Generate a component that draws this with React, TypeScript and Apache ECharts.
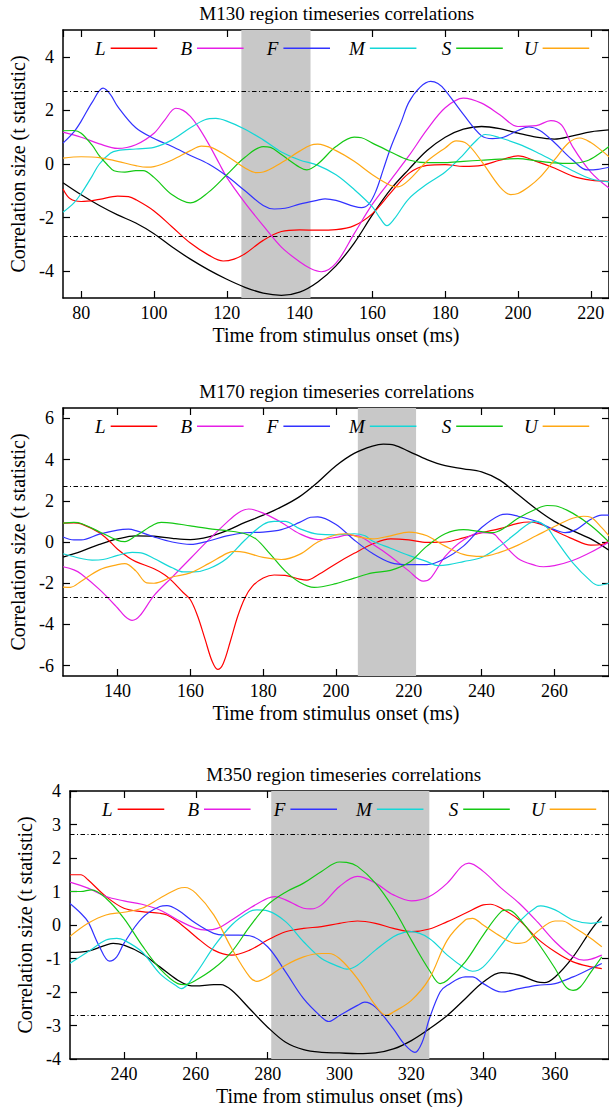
import React, { useEffect, useRef } from 'react';
import * as echarts from 'echarts';

type Pt = [number, number];

const seriesNames = ['L', 'B', 'F', 'M', 'S', 'U'];
const seriesColors = ['#ff0000', '#e61ee6', '#3232ff', '#14d7d7', '#14c814', '#ffa814'];
const overallName = 'All';
const overallColor = '#000000';
const thresholds = [2.7, -2.7];
const xAxisTitle = 'Time from stimulus onset (ms)';
const yAxisTitle = 'Correlation size (t statistic)';

// ---------- M130 ----------
const m130L: Pt[] = [[75,-0.93],[77,-1.3],[80,-1.4],[85,-1.32],[90,-1.2],[93,-1.22],[95,-1.33],[100,-1.75],[105,-2.35],[110,-2.95],[115,-3.4],[119,-3.62],[122,-3.55],[125,-3.35],[130,-2.85],[135,-2.52],[140,-2.46],[145,-2.47],[150,-2.45],[155,-2.3],[160,-1.85],[165,-1.08],[170,-0.35],[175,-0.05],[180,-0.02],[185,-0.09],[190,-0.05],[195,0.14],[200,0.3],[205,0.1],[210,-0.15],[215,-0.45],[220,-0.6],[225,-0.65]];
const m130B: Pt[] = [[75,1.19],[80,1.0],[85,0.75],[90,0.58],[95,0.72],[100,1.15],[103,1.65],[106,2.08],[108,2.0],[110,1.78],[112,1.42],[115,0.75],[118,0.0],[120,-0.5],[125,-1.45],[130,-2.3],[135,-3.1],[140,-3.65],[143,-3.9],[146,-4.02],[150,-3.7],[155,-2.6],[160,-1.5],[165,-0.6],[170,0.3],[175,1.28],[180,2.1],[185,2.46],[190,2.27],[195,1.84],[200,1.4],[205,1.43],[209,1.62],[212,1.45],[215,0.65],[220,-0.3],[225,-0.9]];
const m130F: Pt[] = [[75,0.78],[78,1.2],[80,1.6],[83,2.3],[86,2.83],[88,2.6],[90,2.15],[95,1.35],[100,0.95],[105,0.65],[110,0.32],[115,0.0],[120,-0.45],[125,-1.0],[130,-1.55],[133,-1.68],[136,-1.65],[140,-1.5],[145,-1.35],[147,-1.3],[150,-1.36],[155,-1.58],[157,-1.63],[159,-1.5],[161,-1.0],[163,-0.2],[165,0.6],[168,1.6],[170,2.3],[173,2.85],[176,3.08],[178,3.0],[180,2.75],[185,1.85],[190,1.05],[193,0.95],[196,1.0],[200,1.25],[203,1.38],[206,1.25],[210,0.8],[215,0.15],[219,-0.22],[222,-0.2],[225,-0.12]];
const m130M: Pt[] = [[75,-1.8],[78,-1.45],[80,-1.1],[83,-0.45],[85,0.0],[88,0.4],[90,0.5],[95,0.56],[100,0.62],[105,0.9],[110,1.35],[114,1.65],[117,1.7],[120,1.6],[125,1.3],[130,0.9],[135,0.45],[140,0.15],[145,-0.05],[150,-0.4],[155,-0.95],[160,-1.6],[162,-2.0],[164,-2.3],[166,-2.05],[170,-1.3],[175,-0.75],[180,-0.3],[185,0.35],[188,0.8],[191,1.1],[195,0.98],[200,0.75],[205,0.45],[210,0.1],[215,-0.25],[220,-0.55],[225,-0.67]];
const m130S: Pt[] = [[75,1.24],[78,1.25],[80,1.15],[83,0.7],[85,0.3],[87,0.0],[89,-0.25],[92,-0.3],[95,-0.25],[97,-0.25],[100,-0.5],[105,-1.15],[110,-1.45],[115,-1.05],[120,-0.4],[125,0.25],[130,0.65],[132,0.62],[135,0.35],[140,-0.12],[142,-0.22],[145,0.0],[150,0.65],[155,1.0],[157,0.98],[160,0.78],[165,0.45],[170,0.15],[175,0.05],[180,0.05],[185,0.1],[190,0.14],[195,0.18],[200,0.2],[205,0.12],[210,0.04],[215,0.02],[219,0.12],[222,0.35],[225,0.65]];
const m130U: Pt[] = [[75,0.22],[80,0.27],[85,0.24],[90,0.1],[95,-0.06],[98,-0.12],[100,-0.1],[105,0.15],[110,0.5],[113,0.67],[115,0.65],[120,0.3],[125,-0.15],[128,-0.32],[130,-0.3],[135,0.05],[140,0.48],[143,0.7],[145,0.74],[150,0.5],[155,0.1],[160,-0.4],[165,-0.8],[167,-0.85],[170,-0.6],[175,0.1],[180,0.6],[183,0.86],[186,0.75],[190,0.1],[195,-0.85],[198,-1.14],[200,-1.1],[203,-0.85],[206,-0.5],[210,0.15],[214,0.8],[217,0.97],[220,0.8],[223,0.5],[225,0.27]];
const m130All: Pt[] = [[75,-0.7],[80,-1.15],[85,-1.55],[90,-1.9],[95,-2.2],[100,-2.6],[105,-3.1],[110,-3.55],[115,-3.95],[120,-4.3],[125,-4.6],[130,-4.82],[135,-4.9],[140,-4.78],[145,-4.4],[150,-3.8],[155,-2.95],[160,-1.9],[165,-0.95],[170,-0.2],[175,0.5],[180,1.0],[185,1.3],[190,1.4],[195,1.32],[200,1.15],[205,1.0],[210,0.93],[215,1.05],[220,1.2],[225,1.27]];

// ---------- M170 ----------
const m170L: Pt[] = [[125,0.92],[128,0.93],[130,0.88],[135,0.45],[138,0.0],[140,-0.35],[143,-0.75],[145,-0.95],[150,-1.3],[153,-1.6],[155,-1.9],[158,-2.45],[160,-2.8],[162,-3.6],[164,-4.7],[166,-5.8],[167.5,-6.18],[169,-5.9],[171,-4.8],[173,-3.6],[175,-2.7],[177,-2.15],[180,-1.75],[183,-1.6],[186,-1.62],[190,-1.8],[192,-1.85],[195,-1.6],[200,-1.05],[205,-0.55],[210,-0.1],[215,0.15],[220,0.1],[225,-0.02],[230,0.0],[235,0.2],[240,0.45],[245,0.65],[250,0.9],[253,0.97],[256,0.88],[260,0.55],[265,0.15],[270,-0.15],[273,-0.12],[275,0.05]];
const m170B: Pt[] = [[125,-1.2],[128,-1.35],[130,-1.55],[135,-2.3],[140,-3.2],[142,-3.6],[144,-3.8],[146,-3.6],[150,-2.6],[155,-1.7],[160,-0.8],[165,0.1],[170,0.95],[173,1.4],[176,1.6],[180,1.4],[185,0.95],[190,0.4],[195,0.12],[200,0.22],[203,0.33],[206,0.3],[210,-0.1],[215,-0.7],[220,-1.4],[224,-1.9],[226,-1.75],[230,-0.7],[235,0.1],[240,0.45],[243,0.42],[245,0.1],[250,-0.8],[255,-1.15],[257,-1.2],[260,-1.15],[265,-0.9],[270,-0.5],[275,0.0]];
const m170F: Pt[] = [[125,0.24],[128,0.1],[130,0.1],[135,0.38],[140,0.58],[143,0.62],[145,0.55],[150,0.25],[155,0.0],[160,-0.12],[165,0.05],[170,0.3],[175,0.45],[180,0.48],[185,0.6],[190,0.95],[193,1.2],[195,1.22],[200,0.85],[205,0.1],[210,-0.55],[215,-1.0],[220,-1.1],[225,-1.1],[230,-0.8],[235,-0.2],[240,0.7],[245,1.3],[247,1.35],[250,1.25],[255,1.0],[260,0.6],[263,0.45],[266,0.6],[270,1.1],[273,1.3],[275,1.3]];
const m170M: Pt[] = [[125,-0.57],[130,-0.8],[133,-0.88],[136,-0.85],[140,-0.65],[144,-0.5],[147,-0.55],[150,-0.8],[155,-1.25],[158,-1.45],[161,-1.45],[165,-1.3],[170,-0.8],[175,0.1],[180,0.85],[183,1.0],[186,1.0],[190,0.65],[195,0.38],[200,0.35],[205,0.4],[208,0.3],[210,0.05],[215,-0.3],[220,-0.65],[225,-0.95],[228,-1.15],[231,-1.1],[235,-0.95],[240,-0.75],[245,-0.2],[250,0.5],[253,0.9],[255,1.0],[258,0.7],[260,0.2],[265,-1.0],[270,-1.9],[272,-2.1],[275,-2.0]];
const m170S: Pt[] = [[125,0.92],[128,0.95],[130,0.9],[135,0.5],[140,0.08],[142,0.02],[145,0.3],[150,0.85],[152,0.95],[155,0.92],[160,0.78],[165,0.65],[170,0.55],[175,0.4],[178,0.15],[182,-0.6],[186,-1.4],[190,-1.95],[194,-2.2],[200,-2.02],[205,-1.75],[210,-1.5],[215,-1.38],[220,-1.0],[225,-0.2],[230,0.4],[235,0.6],[240,0.5],[243,0.45],[246,0.65],[250,1.15],[255,1.6],[258,1.77],[261,1.72],[265,1.4],[270,0.8],[275,0.0]];
const m170U: Pt[] = [[125,-2.19],[127,-2.2],[130,-1.9],[135,-1.35],[140,-1.1],[142,-1.05],[145,-1.4],[148,-1.98],[150,-2.0],[155,-1.7],[160,-1.5],[165,-1.05],[170,-0.55],[172,-0.45],[175,-0.5],[180,-0.75],[185,-0.85],[190,-0.6],[195,0.0],[200,0.35],[203,0.4],[206,0.25],[210,0.15],[215,0.3],[220,0.48],[222,0.45],[225,0.3],[230,-0.2],[235,-0.6],[240,-0.7],[245,-0.5],[250,-0.15],[255,0.3],[260,0.75],[265,1.15],[268,1.25],[270,1.2],[273,0.7],[275,0.3]];
const m170All: Pt[] = [[125,-0.73],[130,-0.45],[135,-0.12],[140,0.15],[145,0.3],[150,0.28],[155,0.18],[160,0.12],[165,0.25],[170,0.55],[175,0.95],[180,1.3],[185,1.7],[190,2.2],[195,2.9],[200,3.7],[205,4.3],[210,4.65],[213,4.75],[216,4.7],[220,4.4],[225,4.0],[230,3.7],[235,3.55],[240,3.4],[245,3.0],[250,2.3],[255,1.6],[260,1.0],[265,0.55],[270,0.15],[275,-0.4]];

// ---------- M350 ----------
const m350L: Pt[] = [[225,1.5],[228,1.5],[230,1.35],[235,0.85],[240,0.5],[245,0.4],[250,0.35],[252,0.3],[255,0.1],[260,-0.35],[265,-0.75],[270,-0.9],[275,-0.75],[280,-0.45],[285,-0.2],[290,-0.1],[295,-0.05],[300,0.05],[305,0.12],[310,0.05],[315,-0.1],[320,-0.2],[325,-0.12],[330,0.1],[335,0.35],[340,0.6],[342,0.62],[345,0.5],[350,0.15],[355,-0.4],[360,-0.8],[365,-1.1],[370,-1.25],[373,-1.3]];
const m350B: Pt[] = [[225,1.28],[230,1.1],[235,0.85],[240,0.72],[245,0.62],[250,0.45],[255,0.15],[260,-0.1],[263,-0.15],[266,-0.1],[270,0.15],[275,0.5],[280,0.8],[282,0.85],[285,0.75],[290,0.5],[292,0.48],[295,0.6],[300,1.15],[305,1.45],[310,1.25],[315,0.9],[320,0.72],[325,0.85],[330,1.25],[334,1.75],[336,1.85],[340,1.6],[345,1.1],[350,0.65],[355,0.1],[360,-0.5],[365,-0.95],[368,-1.05],[370,-1.02],[373,-0.9]];
const m350F: Pt[] = [[225,0.64],[228,0.35],[230,0.1],[233,-0.6],[236,-1.08],[238,-0.95],[240,-0.55],[245,0.2],[250,0.55],[252,0.58],[255,0.45],[260,0.05],[265,-0.25],[268,-0.3],[272,-0.3],[275,-0.32],[280,-0.65],[285,-1.4],[290,-2.2],[295,-2.75],[297,-2.88],[300,-2.7],[305,-2.4],[307,-2.3],[310,-2.45],[315,-3.1],[318,-3.55],[321,-3.8],[323,-3.5],[325,-2.8],[328,-2.0],[330,-1.8],[335,-1.55],[337,-1.55],[340,-1.75],[345,-2.0],[350,-1.9],[355,-1.8],[360,-1.75],[365,-1.55],[370,-1.3],[373,-1.15]];
const m350M: Pt[] = [[225,-1.14],[230,-0.8],[235,-0.45],[238,-0.4],[240,-0.45],[245,-0.8],[250,-1.45],[255,-1.85],[256,-1.9],[260,-1.45],[265,-0.65],[270,0.0],[275,0.4],[277,0.45],[280,0.42],[285,0.1],[290,-0.5],[295,-1.0],[300,-1.25],[302,-1.32],[305,-1.2],[310,-0.75],[315,-0.35],[318,-0.22],[320,-0.2],[325,-0.4],[330,-0.9],[335,-1.3],[337,-1.38],[340,-1.25],[345,-0.6],[350,0.1],[355,0.55],[356,0.57],[360,0.45],[365,0.15],[370,0.05],[373,0.1]];
const m350S: Pt[] = [[225,1.0],[228,1.0],[231,1.05],[235,0.8],[240,0.2],[245,-0.6],[250,-1.3],[255,-1.75],[257,-1.78],[260,-1.65],[265,-1.3],[270,-0.8],[275,-0.05],[280,0.6],[285,0.98],[290,1.25],[295,1.6],[300,1.88],[302,1.87],[305,1.75],[310,1.25],[315,0.5],[320,-0.45],[325,-1.35],[328,-1.75],[330,-1.65],[335,-1.1],[340,-0.3],[345,0.4],[347,0.45],[350,0.2],[355,-0.5],[360,-1.3],[363,-1.85],[365,-1.95],[367,-1.85],[370,-1.4],[373,-0.95]];
const m350U: Pt[] = [[225,-0.34],[230,0.05],[235,0.3],[240,0.38],[245,0.5],[250,0.8],[255,1.08],[257,1.12],[260,0.95],[265,0.3],[270,-0.7],[275,-1.55],[277,-1.68],[280,-1.55],[285,-1.2],[290,-0.95],[295,-0.85],[297,-0.85],[300,-1.0],[305,-1.6],[310,-2.4],[313,-2.7],[315,-2.6],[320,-2.25],[325,-1.6],[330,-0.45],[335,0.15],[337,0.2],[340,0.0],[345,-0.35],[349,-0.55],[352,-0.5],[355,-0.2],[360,0.12],[362,0.12],[365,-0.05],[370,-0.4],[373,-0.65]];
const m350All: Pt[] = [[225,-0.82],[230,-0.78],[235,-0.6],[237,-0.55],[240,-0.6],[245,-0.85],[250,-1.25],[255,-1.65],[258,-1.8],[260,-1.82],[265,-1.78],[267,-1.78],[270,-1.95],[275,-2.5],[280,-3.05],[285,-3.5],[290,-3.72],[295,-3.8],[300,-3.82],[305,-3.84],[310,-3.82],[315,-3.7],[320,-3.45],[325,-3.1],[330,-2.7],[335,-2.2],[340,-1.7],[345,-1.42],[350,-1.5],[355,-1.7],[357,-1.72],[360,-1.55],[365,-0.95],[370,-0.15],[373,0.25]];

const panelTitles = ['M130 region timeseries correlations', 'M170 region timeseries correlations', 'M350 region timeseries correlations'];
const xRanges: Pt[] = [[75, 225], [125, 275], [225, 375]];
const yRanges: Pt[] = [[-5, 5], [-6.5, 6.5], [-4, 4]];
const yTickSteps = [2, 2, 1];
const bands: Pt[] = [[124, 143], [206, 222], [281, 325]];
const panelLines = [
  [m130L, m130B, m130F, m130M, m130S, m130U],
  [m170L, m170B, m170F, m170M, m170S, m170U],
  [m350L, m350B, m350F, m350M, m350S, m350U],
];
const panelOverall = [m130All, m170All, m350All];

// layout (pixels)
const layout = [
  { left: 63, top: 30 },
  { left: 63, top: 408 },
  { left: 70, top: 791 },
];
const PW = 547.5;
const PH = 268;
const FONT = '"Liberation Serif", "Times New Roman", serif';
const FS = 18;
const legendTextW = [10.5, 11.6, 11.6, 15.8, 9.5, 13.7];

function buildOption() {
  const grid: any[] = [];
  const xAxis: any[] = [];
  const yAxis: any[] = [];
  const series: any[] = [];
  const title: any[] = [];
  const legend: any[] = [];
  const axisLine = { show: true, onZero: false, lineStyle: { color: '#000', width: 1.5 } };
  const tick = { show: true, inside: true, length: 7, lineStyle: { color: '#000', width: 1.2 } };
  const labelStyle = { fontFamily: FONT, fontSize: FS, color: '#000' };
  const nameStyle = { fontFamily: FONT, fontSize: 20, color: '#000' };

  layout.forEach((L, p) => {
    grid.push({ left: L.left, top: L.top, width: PW, height: PH, containLabel: false });
    title.push({
      text: panelTitles[p], left: L.left + PW / 2, top: L.top - 26, textAlign: 'center', padding: 0,
      textStyle: { fontFamily: FONT, fontSize: 19, fontWeight: 'normal', color: '#000' },
    });
    const [x0, x1] = xRanges[p];
    const [y0, y1] = yRanges[p];
    const base = {
      type: 'value', gridIndex: p, min: x0, max: x1, minInterval: 20, maxInterval: 20, splitNumber: 7,
      axisLine, axisTick: tick, splitLine: { show: false },
    };
    xAxis.push({
      ...base, position: 'bottom',
      axisLabel: { ...labelStyle, margin: 6, showMinLabel: false, showMaxLabel: false },
      name: xAxisTitle, nameLocation: 'middle', nameGap: 27, nameTextStyle: nameStyle,
    });
    xAxis.push({ ...base, position: 'top', axisLabel: { show: false } });
    const step = yTickSteps[p];
    const yBase: any = {
      type: 'value', gridIndex: p, min: y0, max: y1, axisLine, axisTick: tick, splitLine: { show: false },
    };
    if (y0 % step === 0) yBase.interval = step;
    else { yBase.minInterval = step; yBase.maxInterval = step; yBase.splitNumber = 5; }
    yAxis.push({
      ...yBase, position: 'left',
      axisLabel: { ...labelStyle, margin: 9, showMinLabel: y0 % step === 0, showMaxLabel: y1 % step === 0 },
      name: yAxisTitle, nameLocation: 'middle', nameGap: 35, nameTextStyle: nameStyle,
    });
    yAxis.push({ ...yBase, position: 'right', axisLabel: { show: false } });

    series.push({
      type: 'line', name: overallName, xAxisIndex: 2 * p, yAxisIndex: 2 * p, data: panelOverall[p],
      symbol: 'none', smooth: 0.35, lineStyle: { color: overallColor, width: 1.3 }, itemStyle: { color: overallColor },
      z: 3, silent: true,
      markArea: {
        silent: true, itemStyle: { color: '#c8c8c8', opacity: 1 },
        data: [[{ xAxis: bands[p][0] }, { xAxis: bands[p][1] }]],
      },
      markLine: {
        silent: true, symbol: ['none', 'none'], label: { show: false },
        lineStyle: { color: '#000', width: 1, type: [4.5, 2.5, 1, 2.5] },
        data: thresholds.map((v) => ({ yAxis: v })),
      },
    });
    panelLines[p].forEach((d, i) => {
      series.push({
        type: 'line', name: seriesNames[i], xAxisIndex: 2 * p, yAxisIndex: 2 * p, data: d,
        symbol: 'none', smooth: 0.35, silent: true,
        lineStyle: { color: seriesColors[i], width: 1.2 }, itemStyle: { color: seriesColors[i] }, z: 3,
      });
      const lineStart = L.left + 49.6 + 86.4 * i;
      legend.push({
        data: [seriesNames[i]], left: lineStart - 7 - legendTextW[i], top: L.top + 19.3 - 10.5,
        align: 'right', padding: 0, icon: 'rect', itemWidth: 46.6, itemHeight: 1.4, selectedMode: false,
        textStyle: { fontFamily: FONT, fontSize: 19, fontStyle: 'italic', color: '#000' },
      });
    });
  });

  return { animation: false, backgroundColor: '#fff', grid, xAxis, yAxis, series, title, legend };
}

export default function App() {
  const ref = useRef<HTMLDivElement>(null);
  useEffect(() => {
    if (!ref.current) return;
    const chart = echarts.init(ref.current, undefined, { renderer: 'svg' });
    chart.setOption(buildOption() as any);
    return () => chart.dispose();
  }, []);
  return <div ref={ref} style={{ position: 'absolute', left: 0, top: 0, width: 609, height: 1107 }} />;
}
